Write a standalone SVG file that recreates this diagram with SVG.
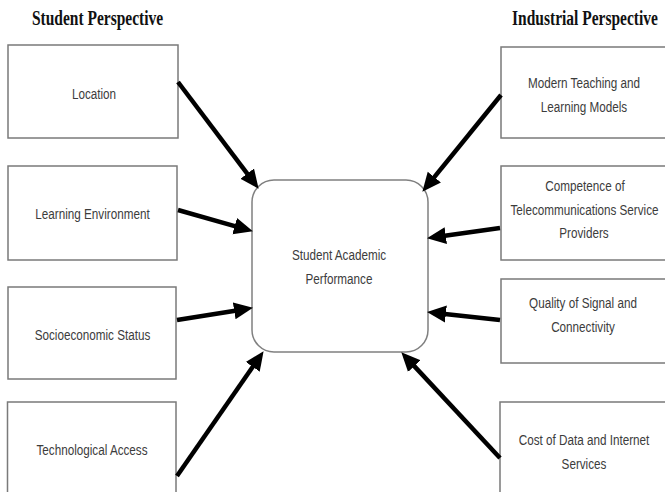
<svg xmlns="http://www.w3.org/2000/svg" width="665" height="492" viewBox="0 0 665 492">
<defs>
<style>
.box{fill:#fff;stroke:#7a7a7a;stroke-width:1.5}
.hub{fill:#fff;stroke:#808080;stroke-width:1.5}
.t{font-family:"Liberation Sans",Arial,sans-serif;font-size:15px;fill:#3c3c3c;text-anchor:middle}
.h{font-family:"Liberation Serif","Times New Roman",serif;font-weight:bold;font-size:20px;fill:#111;text-anchor:middle}
.c line{stroke:#000;stroke-width:4.5;fill:none;marker-end:url(#ah)}
</style>
<marker id="ah" markerUnits="userSpaceOnUse" viewBox="0 -9 20 18" markerWidth="20" markerHeight="18" refX="1" refY="0" orient="auto">
<path d="M0,-8.5 L19,0 L0,8.5 z" fill="#000"/>
</marker>
</defs>
<rect width="665" height="492" fill="#fff"/>
<text class="h" transform="translate(97.5 25) scale(0.775 1)">Student Perspective</text>
<text class="h" transform="translate(585 25) scale(0.775 1)">Industrial Perspective</text>
<g id="n-location"><rect class="box" x="8" y="45" width="170" height="93"/><text class="t" transform="translate(94 99) scale(0.78 1)">Location</text></g>
<g id="n-learning-env"><rect class="box" x="8" y="166" width="169" height="94"/><text class="t" transform="translate(92.5 219) scale(0.78 1)">Learning Environment</text></g>
<g id="n-socio"><rect class="box" x="8" y="287" width="168" height="92"/><text class="t" transform="translate(92.5 340) scale(0.78 1)">Socioeconomic Status</text></g>
<g id="n-tech"><rect class="box" x="7.5" y="402" width="168.5" height="100"/><text class="t" transform="translate(92 455) scale(0.78 1)">Technological Access</text></g>
<g id="n-modern"><rect class="box" x="501" y="47" width="170" height="91"/><text class="t" transform="translate(584 88) scale(0.78 1)">Modern Teaching and</text><text class="t" transform="translate(584 112) scale(0.78 1)">Learning Models</text></g>
<g id="n-competence"><rect class="box" x="501" y="166" width="170" height="94"/><text class="t" transform="translate(585 191) scale(0.78 1)">Competence of</text><text class="t" transform="translate(584.5 214.5) scale(0.78 1)">Telecommunications Service</text><text class="t" transform="translate(584 238) scale(0.78 1)">Providers</text></g>
<g id="n-quality"><rect class="box" x="501" y="279" width="170" height="84"/><text class="t" transform="translate(583 308) scale(0.78 1)">Quality of Signal and</text><text class="t" transform="translate(583 332) scale(0.78 1)">Connectivity</text></g>
<g id="n-cost"><rect class="box" x="500" y="402" width="171" height="100"/><text class="t" transform="translate(584 445) scale(0.78 1)">Cost of Data and Internet</text><text class="t" transform="translate(584 469) scale(0.78 1)">Services</text></g>
<g id="n-performance"><rect class="hub" x="252" y="180" width="176" height="172" rx="22" ry="22"/><text class="t" transform="translate(339 260) scale(0.78 1)">Student Academic</text><text class="t" transform="translate(339 284) scale(0.78 1)">Performance</text></g>
<g id="connectors" class="c">
<line x1="178" y1="82" x2="247.8" y2="174.4"/>
<line x1="178" y1="210" x2="235.6" y2="226.4"/>
<line x1="177" y1="320" x2="235.2" y2="310.7"/>
<line x1="177" y1="476" x2="253.3" y2="366"/>
<line x1="501" y1="95" x2="433.7" y2="177.8"/>
<line x1="500" y1="228" x2="444.8" y2="235.7"/>
<line x1="500" y1="320" x2="444.9" y2="313.9"/>
<line x1="500" y1="458" x2="413.6" y2="365.4"/>
</g>
</svg>
